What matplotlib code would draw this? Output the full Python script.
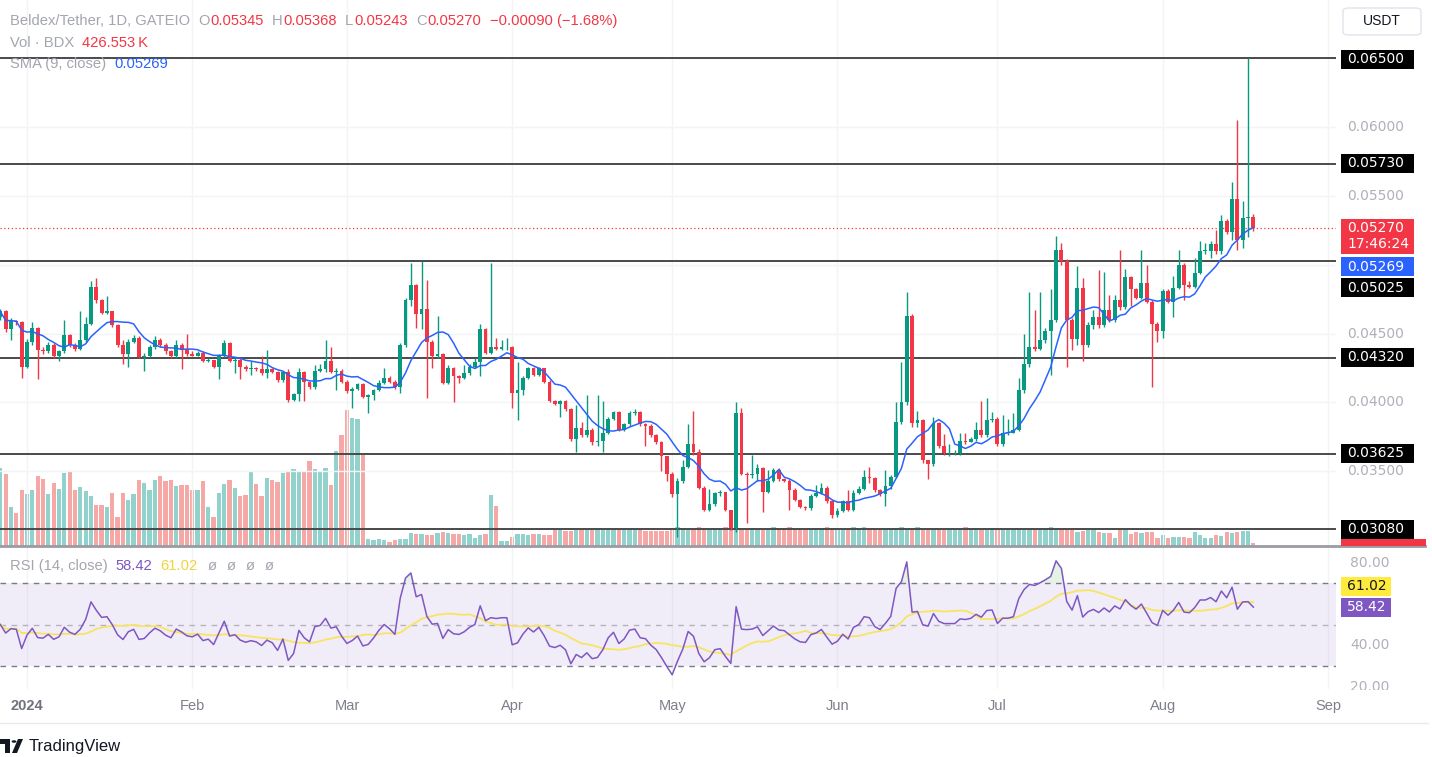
import numpy as np
import pandas as pd
import matplotlib
matplotlib.use("Agg")
import matplotlib.pyplot as plt
import matplotlib.transforms as mtransforms
from matplotlib.patches import Rectangle, FancyBboxPatch, Polygon, Circle

# daily candles, 27 Dec 2023 (day -5) .. 18 Aug 2024 (day 230), day 0 = 1 Jan 2024
first_open = 0.0462
close = [
    0.0466, 0.0453, 0.0459, 0.0458, 0.0426,
    0.0444, 0.0454, 0.0438, 0.0437, 0.0442, 0.0434, 0.0437, 0.0449, 0.0442, 0.0439,
    0.0445, 0.0457, 0.0484, 0.0474, 0.0465, 0.0466, 0.0456, 0.0442, 0.0435, 0.0444,
    0.0447, 0.0433, 0.0434, 0.0440, 0.0445, 0.0442, 0.0437, 0.0434, 0.0442, 0.0439,
    0.0435, 0.0434, 0.0436, 0.0430, 0.0431, 0.0426, 0.0434, 0.0443, 0.0430, 0.0431,
    0.0426, 0.0424, 0.0425, 0.0424, 0.0421, 0.0424, 0.0422, 0.0416, 0.0422, 0.0402,
    0.0406, 0.0422, 0.0415, 0.0411, 0.0423, 0.0424, 0.0430, 0.0422, 0.0423, 0.0415,
    0.0408, 0.0410, 0.0413, 0.0404, 0.0405, 0.0409, 0.0414, 0.0418, 0.0415, 0.0411,
    0.0442, 0.0474, 0.0485, 0.0464, 0.0468, 0.0444, 0.0434, 0.0435, 0.0414, 0.0425,
    0.0419, 0.0418, 0.0421, 0.0426, 0.0429, 0.0453, 0.0436, 0.0440, 0.0439, 0.0440,
    0.0440, 0.0407, 0.0409, 0.0418, 0.0425, 0.0420, 0.0425, 0.0415, 0.0401, 0.0399,
    0.0401, 0.0395, 0.0373, 0.0381, 0.0376, 0.0380, 0.0371, 0.0372, 0.0378, 0.0388,
    0.0393, 0.0380, 0.0384, 0.0392, 0.0393, 0.0384, 0.0383, 0.0376, 0.0371, 0.0361,
    0.0348, 0.0333, 0.0343, 0.0353, 0.0370, 0.0364, 0.0338, 0.0322, 0.0326, 0.0334,
    0.0335, 0.0322, 0.0309, 0.0392, 0.0348, 0.0347, 0.0348, 0.0352, 0.0335, 0.0343,
    0.0351, 0.0344, 0.0343, 0.0336, 0.0329, 0.0324, 0.0323, 0.0332, 0.0334, 0.0338,
    0.0328, 0.0318, 0.0321, 0.0328, 0.0322, 0.0334, 0.0337, 0.0346, 0.0345, 0.0336,
    0.0333, 0.0339, 0.0346, 0.0386, 0.0400, 0.0463, 0.0385, 0.0387, 0.0358, 0.0355,
    0.0385, 0.0368, 0.0363, 0.0363, 0.0363, 0.0372, 0.0371, 0.0373, 0.0380, 0.0376,
    0.0387, 0.0388, 0.0370, 0.0378, 0.0378, 0.0380, 0.0409, 0.0428, 0.0440, 0.0439,
    0.0445, 0.0452, 0.0460, 0.0511, 0.0503, 0.0460, 0.0446, 0.0483, 0.0442, 0.0456,
    0.0462, 0.0456, 0.0467, 0.0460, 0.0474, 0.0469, 0.0491, 0.0482, 0.0476, 0.0487,
    0.0473, 0.0457, 0.0452, 0.0481, 0.0473, 0.0483, 0.0500, 0.0485, 0.0484, 0.0494,
    0.0510, 0.0510, 0.0515, 0.0510, 0.0532, 0.0524, 0.0548, 0.0518, 0.0534, 0.05345,
    0.0527,
]
high = [
    0.0468, 0.0467, 0.0461, 0.0460, 0.0459,
    0.0446, 0.0458, 0.0455, 0.0440, 0.0444, 0.0443, 0.0438, 0.0460, 0.0450, 0.0443,
    0.0466, 0.0462, 0.0488, 0.0490, 0.0475, 0.0477, 0.0466, 0.0457, 0.0445, 0.0446,
    0.0449, 0.0448, 0.0436, 0.0442, 0.0448, 0.0447, 0.0443, 0.0438, 0.0445, 0.0443,
    0.0450, 0.0437, 0.0437, 0.0437, 0.0432, 0.0431, 0.0435, 0.0445, 0.0444, 0.0433,
    0.0432, 0.0427, 0.0430, 0.0426, 0.0434, 0.0438, 0.0425, 0.0423, 0.0423, 0.0424,
    0.0407, 0.0425, 0.0423, 0.0415, 0.0427, 0.0428, 0.0445, 0.0440, 0.0425, 0.0424,
    0.0416, 0.0411, 0.0414, 0.0414, 0.0406, 0.0410, 0.0416, 0.0425, 0.0419, 0.0416,
    0.0443, 0.0476, 0.0501, 0.0486, 0.0503, 0.0489, 0.0445, 0.0463, 0.0436, 0.0427,
    0.0426, 0.0420, 0.0427, 0.0428, 0.0432, 0.0457, 0.0454, 0.0501, 0.0447, 0.0445,
    0.0447, 0.0441, 0.0429, 0.0419, 0.0426, 0.0426, 0.0426, 0.0425, 0.0416, 0.0402,
    0.0402, 0.0402, 0.0396, 0.0398, 0.0386, 0.0405, 0.0381, 0.0405, 0.0401, 0.0389,
    0.0394, 0.0394, 0.0385, 0.0394, 0.0395, 0.0394, 0.0385, 0.0384, 0.0377, 0.0372,
    0.0361, 0.0349, 0.0345, 0.0358, 0.0384, 0.0394, 0.0366, 0.0339, 0.0337, 0.0335,
    0.0336, 0.0335, 0.0322, 0.0400, 0.0396, 0.0349, 0.0362, 0.0355, 0.0353, 0.0351,
    0.0352, 0.0352, 0.0345, 0.0344, 0.0338, 0.0330, 0.0325, 0.0333, 0.0340, 0.0341,
    0.0339, 0.0329, 0.0323, 0.0329, 0.0336, 0.0336, 0.0339, 0.0351, 0.0353, 0.0346,
    0.0337, 0.0351, 0.0347, 0.0400, 0.0429, 0.0480, 0.0464, 0.0394, 0.0388, 0.0358,
    0.0389, 0.0386, 0.0377, 0.0370, 0.0365, 0.0378, 0.0378, 0.0375, 0.0386, 0.0401,
    0.0403, 0.0393, 0.0389, 0.0391, 0.0388, 0.0392, 0.0418, 0.0450, 0.0480, 0.0467,
    0.0480, 0.0454, 0.0482, 0.0521, 0.0516, 0.0504, 0.0461, 0.0499, 0.0490, 0.0458,
    0.0467, 0.0496, 0.0495, 0.0478, 0.0478, 0.0511, 0.0497, 0.0492, 0.0483, 0.0511,
    0.0500, 0.0474, 0.0458, 0.0482, 0.0482, 0.0492, 0.0511, 0.0501, 0.0488, 0.0505,
    0.0517, 0.0516, 0.0517, 0.0525, 0.0536, 0.0533, 0.0560, 0.0605, 0.0546, 0.0650,
    0.05368,
]
low = [
    0.0460, 0.0451, 0.0445, 0.0456, 0.0418,
    0.0425, 0.0442, 0.0417, 0.0435, 0.0436, 0.0432, 0.0430, 0.0436, 0.0440, 0.0437,
    0.0438, 0.0444, 0.0456, 0.0472, 0.0464, 0.0464, 0.0455, 0.0440, 0.0428, 0.0426,
    0.0443, 0.0432, 0.0423, 0.0433, 0.0439, 0.0440, 0.0435, 0.0432, 0.0432, 0.0424,
    0.0434, 0.0434, 0.0434, 0.0429, 0.0429, 0.0425, 0.0417, 0.0433, 0.0429, 0.0421,
    0.0417, 0.0423, 0.0420, 0.0423, 0.0420, 0.0418, 0.0421, 0.0415, 0.0415, 0.0400,
    0.0401, 0.0401, 0.0401, 0.0410, 0.0410, 0.0422, 0.0422, 0.0421, 0.0409, 0.0414,
    0.0407, 0.0396, 0.0409, 0.0403, 0.0392, 0.0402, 0.0408, 0.0413, 0.0414, 0.0410,
    0.0407, 0.0440, 0.0470, 0.0454, 0.0453, 0.0403, 0.0425, 0.0432, 0.0413, 0.0413,
    0.0400, 0.0414, 0.0417, 0.0420, 0.0425, 0.0419, 0.0435, 0.0435, 0.0438, 0.0438,
    0.0438, 0.0396, 0.0387, 0.0405, 0.0417, 0.0419, 0.0419, 0.0414, 0.0400, 0.0398,
    0.0389, 0.0394, 0.0372, 0.0364, 0.0375, 0.0375, 0.0369, 0.0368, 0.0364, 0.0377,
    0.0387, 0.0379, 0.0379, 0.0383, 0.0391, 0.0383, 0.0368, 0.0375, 0.0370, 0.0350,
    0.0343, 0.0331, 0.0302, 0.0341, 0.0352, 0.0362, 0.0337, 0.0321, 0.0321, 0.0325,
    0.0332, 0.0321, 0.0307, 0.0306, 0.0347, 0.0312, 0.0345, 0.0343, 0.0320, 0.0334,
    0.0342, 0.0343, 0.0342, 0.0322, 0.0328, 0.0323, 0.0322, 0.0322, 0.0331, 0.0333,
    0.0327, 0.0316, 0.0317, 0.0320, 0.0321, 0.0321, 0.0333, 0.0336, 0.0341, 0.0335,
    0.0332, 0.0325, 0.0337, 0.0345, 0.0384, 0.0398, 0.0382, 0.0382, 0.0356, 0.0344,
    0.0354, 0.0367, 0.0362, 0.0361, 0.0362, 0.0362, 0.0370, 0.0371, 0.0372, 0.0375,
    0.0375, 0.0386, 0.0368, 0.0368, 0.0376, 0.0378, 0.0379, 0.0407, 0.0426, 0.0437,
    0.0438, 0.0443, 0.0420, 0.0458, 0.0500, 0.0426, 0.0438, 0.0442, 0.0430, 0.0440,
    0.0453, 0.0454, 0.0455, 0.0458, 0.0458, 0.0467, 0.0468, 0.0470, 0.0475, 0.0475,
    0.0472, 0.0411, 0.0444, 0.0447, 0.0472, 0.0462, 0.0482, 0.0474, 0.0483, 0.0483,
    0.0493, 0.0508, 0.0505, 0.0508, 0.0508, 0.0522, 0.0518, 0.0511, 0.0512, 0.0520,
    0.05243,
]
# volume, relative units
volume = [
    78, 72, 39, 33, 56,
    52, 56, 70, 67, 52, 63, 57, 73, 74, 56,
    59, 55, 50, 41, 41, 39, 53, 29, 53, 46,
    52, 66, 63, 56, 66, 70, 65, 66, 60, 61,
    61, 56, 56, 65, 39, 29, 53, 62, 66, 58,
    50, 51, 75, 62, 50, 68, 66, 64, 73, 75,
    77, 75, 75, 85, 77, 75, 78, 61, 95, 111,
    136, 128, 127, 92, 7, 6, 7, 6, 4, 6,
    7, 7, 13, 12, 12, 11, 11, 13, 14, 13,
    12, 12, 11, 12, 8, 11, 12, 51, 40, 5,
    5, 9, 12, 12, 11, 12, 12, 11, 11, 16,
    16, 15, 15, 16, 16, 17, 16, 16, 16, 17,
    16, 16, 17, 16, 17, 17, 15, 15, 15, 15,
    15, 18, 19, 18, 17, 18, 19, 18, 17, 18,
    18, 19, 20, 19, 18, 17, 18, 17, 17, 18,
    19, 18, 18, 19, 18, 18, 17, 17, 18, 18,
    19, 18, 18, 17, 18, 19, 18, 19, 18, 18,
    17, 18, 17, 17, 19, 17, 17, 19, 17, 17,
    17, 17, 16, 17, 17, 17, 19, 17, 17, 16,
    17, 17, 16, 17, 17, 17, 17, 16, 17, 17,
    17, 16, 19, 17, 16, 17, 16, 14, 15, 16,
    17, 14, 13, 13, 8, 16, 16, 12, 14, 13,
    14, 14, 8, 11, 8, 9, 9, 9, 8, 14,
    11, 8, 8, 11, 10, 14, 13, 14, 15, 15,
    3,
]
levels = [0.0650, 0.0573, 0.05025, 0.0432, 0.03625, 0.0308]
month_days = [0, 31, 60, 91, 121, 152, 182, 213, 244]
month_labels = ["2024", "Feb", "Mar", "Apr", "May", "Jun", "Jul", "Aug", "Sep"]
price_ticks = [0.035, 0.040, 0.045, 0.055, 0.060]

UP, DOWN = "#089981", "#f23645"
VUP, VDOWN = "#26a69a", "#ef5350"
GRAY = "#a3a6af"
FONT = "Liberation Sans"

W, H = 1432, 757
fig = plt.figure(figsize=(W / 100, H / 100), dpi=100)


def fx(x):
    return x / W


def fy(y):
    return 1 - y / H


close = np.array(close)
high = np.array(high)
low = np.array(low)
open_ = np.concatenate([[first_open], close[:-1]])
days = np.arange(-5, -5 + len(close))

ax = fig.add_axes([0, fy(546), fx(1336), 546 / H])
rax = fig.add_axes([0, fy(689), fx(1336), (689 - 548) / H])
vax = ax.twinx()
ax.set_zorder(vax.get_zorder() + 1)
ax.patch.set_visible(False)

xlim = (-5.06, 245.5)
for a in (ax, rax, vax):
    a.set_xlim(*xlim)
    for s in a.spines.values():
        s.set_visible(False)
    a.tick_params(left=False, right=False, bottom=False, labelleft=False,
                  labelright=False, labelbottom=False)
ax.set_ylim(0.029557, 0.069237)
vax.set_ylim(0, 546)
rax.set_ylim(18.92, 86.87)

# faint grid
for d in month_days:
    ax.axvline(d, color="#f3f4f6", lw=1, zorder=0)
    rax.axvline(d, color="#f3f4f6", lw=1, zorder=0)
for p in price_ticks + [0.050, 0.065]:
    ax.axhline(p, color="#f3f4f6", lw=1, zorder=0)

# volume
up = close >= open_
vax.bar(days, volume, width=0.8, color=np.where(up, VUP, VDOWN), alpha=0.5, linewidth=0)

# candles
col = np.where(up, UP, DOWN)
top = np.maximum(open_, close)
bot = np.minimum(open_, close)
ax.vlines(days, np.minimum(low, bot), np.maximum(high, top), colors=col, lw=1, zorder=3)
ax.bar(days, np.maximum(top - bot, 0.00004), bottom=bot, width=0.72, color=col,
       linewidth=0, zorder=4)

sma = pd.Series(close).rolling(9, min_periods=1).mean()
ax.plot(days, sma, color="#2962ff", lw=1.1, zorder=5)

for lv in levels:
    ax.axhline(lv, color="#4a4a4a", lw=1.4, zorder=2)
ax.axhline(close[-1], color=DOWN, lw=0.9, ls=(0, (1, 2)), zorder=2)

# RSI (14) with Wilder smoothing and its 14 SMA
delta = np.diff(close, prepend=close[0])
ag, al = 0.0006, 0.0006
rsi = []
for dlt in delta:
    ag = (ag * 13 + max(dlt, 0)) / 14
    al = (al * 13 + max(-dlt, 0)) / 14
    rsi.append(100 - 100 / (1 + ag / al))
rsi = np.array(rsi)
rsi_ma = pd.Series(rsi).rolling(14, min_periods=1).mean()

rax.axhspan(30, 70, color="#7e57c2", alpha=0.1, lw=0)
for lv, al_ in ((70, 1), (50, 0.5), (30, 1)):
    rax.axhline(lv, color="#787b86", lw=1, ls=(0, (4, 4)), alpha=al_)
rax.fill_between(days, rsi, 70, where=rsi > 70, color="#4caf50", alpha=0.15, lw=0,
                 interpolate=True)
rax.plot(days, rsi_ma, color="#f7e463", lw=1.3)
rax.plot(days, rsi, color="#7e57c2", lw=1.1)

# separators
fig.add_artist(plt.Line2D([0, fx(1425)], [fy(546), fy(546)], color="#9a9ca3", lw=2))
fig.add_artist(plt.Line2D([0, fx(1428)], [fy(723), fy(723)], color="#e8eaef", lw=1))

# month labels
trans = mtransforms.blended_transform_factory(rax.transData, fig.transFigure)
for d, lab in zip(month_days, month_labels):
    rax.text(d, fy(706), lab, transform=trans, ha="center", va="center",
             fontsize=10.5, color="#7d808a" if lab != "2024" else "#6f727c",
             fontweight="bold" if lab == "2024" else "normal", family=FONT)

# header legend lines
renderer = fig.canvas.get_renderer()


def write_parts(parts, x_px, y_px, size=10.6):
    x = x_px
    for s, c, gap in parts:
        t = fig.text(fx(x), fy(y_px), s, color=c, fontsize=size, ha="left",
                     va="center", family=FONT)
        x += t.get_window_extent(renderer=renderer).width + gap


write_parts([("Beldex/Tether, 1D, GATEIO", GRAY, 8), ("O", GRAY, 1), ("0.05345", DOWN, 8),
             ("H", GRAY, 1), ("0.05368", DOWN, 8), ("L", GRAY, 1), ("0.05243", DOWN, 8),
             ("C", GRAY, 1), ("0.05270", DOWN, 8), ("\u22120.00090 (\u22121.68%)", DOWN, 0)],
            10, 21)
write_parts([("Vol \u00b7 BDX", GRAY, 8), ("426.553\u2009K", DOWN, 0)], 10, 43)
write_parts([("SMA (9, close)", GRAY, 8), ("0.05269", "#2962ff", 0)], 10, 64)
write_parts([("RSI (14, close)", GRAY, 8), ("58.42", "#7e57c2", 8), ("61.02", "#f0d43a", 10),
             ("\u00f8", GRAY, 10), ("\u00f8", GRAY, 10), ("\u00f8", GRAY, 10), ("\u00f8", GRAY, 0)],
            10, 566)

# price scale labels
for p in price_ticks:
    fig.text(fx(1347), ax.transData.transform((0, p))[1] / H, "%.5f" % p, color="#aeb1b9",
             fontsize=10, ha="left", va="center", zorder=5)


def box(y_c, h, text, fc, tc, x0=1341, x1=1414):
    fig.add_artist(Rectangle((fx(x0), fy(y_c + h / 2)), (x1 - x0) / W, h / H,
                             transform=fig.transFigure, facecolor=fc, edgecolor="none",
                             zorder=6))
    fig.text(fx(x0 + 6), fy(y_c), text, color=tc, fontsize=10, ha="left", va="center",
             zorder=7, linespacing=1.15)


for lab, yc in (("0.06500", 59), ("0.05730", 163), ("0.05025", 288), ("0.04320", 357),
                ("0.03625", 453), ("0.03080", 529)):
    box(yc, 19, lab, "black", "white")
box(236, 35, "0.05270\n17:46:24", "#f23645", "white")
box(267, 19, "0.05269", "#2962ff", "white")
fig.add_artist(Rectangle((fx(1341), fy(546)), 85 / W, 7 / H, transform=fig.transFigure,
                         facecolor="#f23645", edgecolor="none", zorder=6))

# RSI scale labels
for v, yc in (("80.00", 563), ("40.00", 645), ("20.00", 687)):
    fig.text(fx(1350), fy(yc), v, color="#aeb1b9", fontsize=10, ha="left", va="center",
             zorder=5)
fig.add_artist(Rectangle((fx(1336), fy(700)), 96 / W, 10 / H, transform=fig.transFigure,
                         facecolor="white", edgecolor="none", zorder=6))
box(586, 19, "61.02", "#ffeb3b", "#131722", x1=1391)
box(607, 19, "58.42", "#7e57c2", "white", x1=1391)

# currency box
fig.add_artist(FancyBboxPatch((fx(1343), fy(35)), 78 / W, 27 / H,
                              boxstyle="round,pad=0,rounding_size=0.004",
                              transform=fig.transFigure, facecolor="white",
                              edgecolor="#e0e3eb", lw=1))
fig.text(fx(1382), fy(21), "USDT", color="#131722", fontsize=10, ha="center", va="center",
         family=FONT)

# TradingView logo
lc = "#131722"
fig.add_artist(Rectangle((fx(0), fy(744)), 10 / W, 5 / H, transform=fig.transFigure,
                         facecolor=lc, edgecolor="none"))
fig.add_artist(Rectangle((fx(5), fy(753)), 5 / W, 10 / H, transform=fig.transFigure,
                         facecolor=lc, edgecolor="none"))
fig.add_artist(Circle((fx(14), fy(741.5)), 2.4 / W, transform=fig.transFigure,
                      facecolor=lc, edgecolor="none"))
fig.add_artist(Polygon([(fx(12), fy(753)), (fx(17), fy(753)), (fx(23), fy(739)),
                        (fx(18), fy(739))], closed=True, transform=fig.transFigure,
                       facecolor=lc, edgecolor="none"))
fig.text(fx(29), fy(746), "TradingView", color=lc, fontsize=12, ha="left", va="center",
         family=FONT)

fig.savefig("out.png", dpi=100, facecolor="white")
